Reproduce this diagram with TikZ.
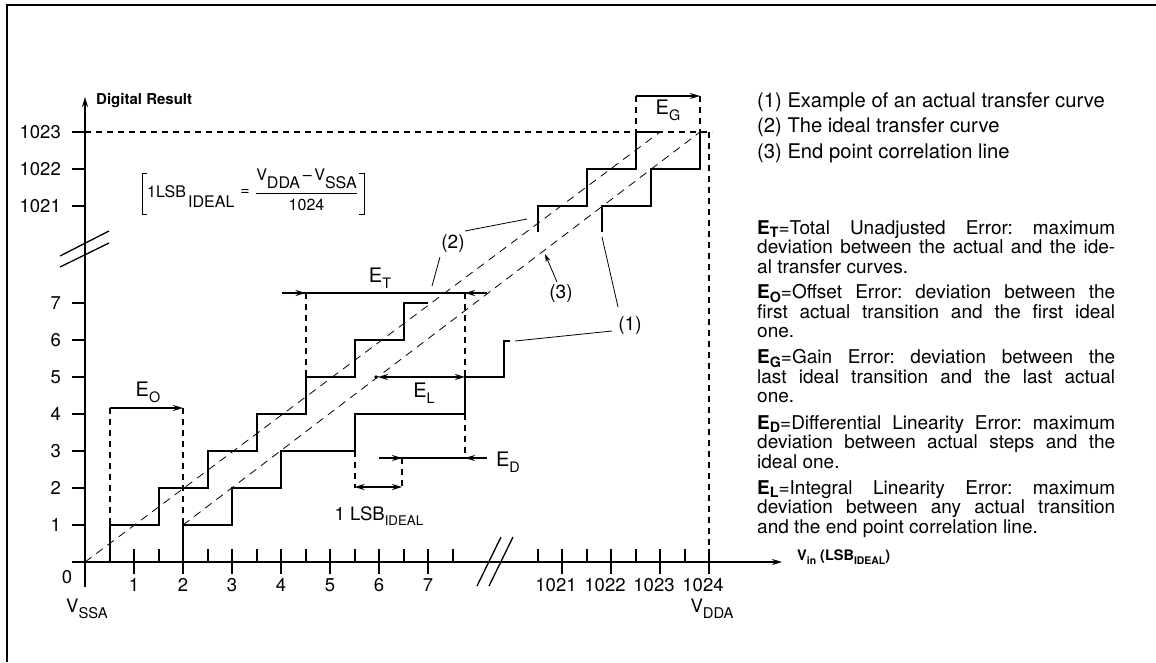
\documentclass[tikz,border=0pt]{standalone}
\usepackage{fontspec}
\setmainfont{TeX Gyre Heros}
\usepackage{graphicx}
\usetikzlibrary{arrows.meta}
\newcommand\lsub[2][0.72]{\raisebox{-0.3em}{\scalebox{#1}{#2}}}
\newcommand\bsub[1]{\raisebox{-0.2em}[\height][0pt]{\scalebox{0.75}{#1}}}
\newcommand\fs[1]{\fontsize{#1}{#1}\selectfont}
\frenchspacing
\begin{document}
\begin{tikzpicture}[x=1pt,y=-1pt,
  frame/.style={line width=2pt},
  axis/.style={line width=2pt},
  stair/.style={line width=2pt, line join=miter},
  thindash/.style={line width=0.8pt, dash pattern=on 8pt off 6pt},
  thickdash/.style={line width=2pt, dash pattern=on 5.5pt off 5.5pt},
  leader/.style={line width=0.8pt},
  eline/.style={line width=1.8pt},
  tipr/.style={line width=1.8pt, -{Stealth[length=10pt,width=6pt]}},
  brk/.style={line width=1.3pt},
  lab/.style={inner sep=0pt},
  tick/.style={inner sep=0pt, font=\fs{18.5}},
  elab/.style={inner sep=0pt, font=\fs{20}},
  txt/.style={anchor=base west, inner sep=0pt, font=\fs{19}},
  leg/.style={anchor=base west, inner sep=0pt, font=\fs{20.2}}
]
\useasboundingbox (0,0) rectangle (1156,662);
% frame
\draw[frame] (7,662) -- (7,5) -- (1156,5);

% axes
\draw[axis, -{Stealth[length=10pt,width=6pt]}] (85,587) -- (85,97);
\draw[axis, -{Stealth[length=10pt,width=6pt]}] (72,562) -- (782,562);
\node[lab, anchor=base west, font=\bfseries\fs{15}] (ylab) at (96,104) {Digital Result};
\node[lab, anchor=base west, font=\bfseries\fs{14.5}] (xlab) at (797,560) {V\lsub{in} (LSB\lsub{IDEAL})};

% y ticks
\foreach \v/\t in {525/1,488/2,451/3,414/4,377/5,340/6,303/7,206/1021,169/1022,132/1023}{
  \draw[axis] (72,\v) -- (85,\v);
  \node[tick, anchor=east] at (61,\v) {\t};
}
\node[tick] (zero) at (67,577) {0};
% x ticks
\foreach \n in {1,...,7}{
  \draw[axis] ({85+49*\n},549) -- ({85+49*\n},574);
  \node[tick, anchor=north] at ({85+49*\n},578) {\n};
  \draw[axis] ({85+49*(\n-0.5)},549) -- ({85+49*(\n-0.5)},562);
}
\draw[axis] (452.5,549) -- (452.5,562);
\foreach \k/\t in {0/1021,1/1022,2/1023,3/1024}{
  \draw[axis] ({562+49*\k},549) -- ({562+49*\k},574);
  \node[tick, anchor=north] at ({556+49*\k},578) {\t};
  \draw[axis] ({537.5+49*\k},549) -- ({537.5+49*\k},562);
}
\node[tick] (vssa) at (87,609) {V\lsub[0.8]{SSA}};
\node[tick] (vdda) at (712,609) {V\lsub[0.8]{DDA}};

% breaks
\draw[brk] (60,256) -- (109,231);
\draw[brk] (60,267) -- (109,243);
\draw[brk] (477,586) -- (501,537);
\draw[brk] (489,586) -- (513,537);

% 1023 / 1024 dashed limits
\draw[thickdash] (85,132) -- (712,132);
\draw[thickdash] (709,132) -- (709,562);

% ideal straight line (2) and end point correlation line (3)
\draw[thindash] (85,562) -- (660,132);
\draw[thindash] (183,525) -- (700,132);

% ideal staircase (2)
\draw[stair] (109.5,562) -- (109.5,525) -- (158.5,525) -- (158.5,488) -- (207.5,488) -- (207.5,451)
  -- (256.5,451) -- (256.5,414) -- (305.5,414) -- (305.5,377) -- (354.5,377) -- (354.5,340)
  -- (403.5,340) -- (403.5,303) -- (428,303);
\draw[stair] (537.5,232) -- (537.5,206) -- (586.5,206) -- (586.5,169) -- (635.5,169) -- (635.5,132) -- (660,132);
% actual staircase (1)
\draw[stair] (183,562) -- (183,525) -- (232,525) -- (232,488) -- (281,488) -- (281,451)
  -- (354.5,451) -- (354.5,414) -- (465,414) -- (465,377) -- (504,377) -- (504,341) -- (510,341);
\draw[stair] (602,232) -- (602,206) -- (651,206) -- (651,169) -- (700,169) -- (700,132);

% E_O
\draw[thickdash] (109.5,408) -- (109.5,525);
\draw[thickdash] (183,408) -- (183,525);
\draw[tipr] (109.5,408) -- (183,408);
\node[elab] (eo) at (148,392) {E\lsub{O}};

% E_T
\draw[thickdash] (305.5,293) -- (305.5,377);
\draw[thickdash] (465,293) -- (465,377);
\draw[eline] (282,293) -- (487,293);
\draw[tipr] (290,293) -- (305.5,293);
\draw[tipr] (480,293) -- (465,293);
\node[elab] (et) at (380,278) {E\lsub{T}};

% E_L
\draw[tipr] (420,377) -- (378,377);
\draw[tipr] (420,377) -- (465,377);
\fill (376,377) circle (1.8pt);
\node[elab] (el) at (424,393) {E\lsub{L}};

% E_D
\draw[thickdash] (465,414) -- (465,458);
\draw[thickdash] (402,458) -- (402,488);
\draw[thickdash] (354.5,451) -- (354.5,488);
\draw[eline] (379,458) -- (487,458);
\draw[tipr] (385,458) -- (402,458);
\draw[tipr] (480,458) -- (465,458);
\node[elab] (ed) at (508,462) {E\lsub{D}};
\draw[tipr] (378,487) -- (354.5,487);
\draw[tipr] (378,487) -- (402,487);
\node[tick] (lsb) at (379,516) {1 LSB\lsub{IDEAL}};

% E_G
\draw[thickdash] (635.5,96) -- (635.5,132);
\draw[thickdash] (700,96) -- (700,132);
\draw[tipr] (635.5,96) -- (700,96);
\node[elab] (eg) at (668,110) {E\lsub{G}};

% curve labels
\node[elab, font=\fs{19}] (l2) at (453,244) {(2)};
\node[elab, font=\fs{19}] (l3) at (561,294) {(3)};
\node[elab, font=\fs{19}] (l1) at (630,326) {(1)};
\coordinate (p2a) at (527,219);
\coordinate (p2b) at (432,286);
\coordinate (p3) at (545,254);
\coordinate (p1a) at (602,237);
\coordinate (p1b) at (515,341);
\draw[leader] (465,231) -- (p2a);
\draw[leader] (440,257) -- (p2b);
\draw[leader, -{Stealth[length=8pt,width=5pt]}] (557,282) -- (p3);
\draw[leader] (618,307) -- (p1a);
\draw[leader] (612,331) -- (p1b);

% formula
\draw[line width=1pt] (147,173) -- (142,173) -- (142,214) -- (147,214);
\draw[line width=1pt] (359,173) -- (364,173) -- (364,214) -- (359,214);
\node[lab, anchor=base west, font=\fs{16}] (f1) at (147,197) {1LSB};
\node[lab, anchor=base west, font=\fs{16}] (f2) at (188,207) {IDEAL};
\node[lab, font=\fs{16}] (feq) at (245,192) {=};
\draw[line width=1pt] (256,193) -- (357,193);
\node[lab, anchor=base, font=\fs{16}] (fnum) at (306.5,180) {V\raisebox{-0.55em}{DDA}\,–\,V\raisebox{-0.55em}{SSA}};
\node[lab, anchor=base, font=\fs{16}] (fden) at (306.5,210) {1024};

% legend
\node[leg] (g1) at (757,107) {(1) Example of an actual transfer curve};
\node[leg] (g2) at (757,132.5) {(2) The ideal transfer curve};
\node[leg] (g3) at (757,158) {(3) End point correlation line};

% definitions
\node[txt] (d1) at (757,234) {\makebox[358pt][s]{\textbf{E\bsub{T}}=Total Unadjusted Error: maximum}};
\node[txt] (d2) at (757,253.5) {\makebox[358pt][s]{deviation between the actual and the ide-}};
\node[txt] (d3) at (757,273) {al transfer curves.};
\node[txt] (d4) at (757,298.5) {\makebox[358pt][s]{\textbf{E\bsub{O}}=Offset Error: deviation between the}};
\node[txt] (d5) at (757,318) {\makebox[358pt][s]{first actual transition and the first ideal}};
\node[txt] (d6) at (757,337.5) {one.};
\node[txt] (d7) at (757,363.5) {\makebox[358pt][s]{\textbf{E\bsub{G}}=Gain Error: deviation between the}};
\node[txt] (d8) at (757,383) {\makebox[358pt][s]{last ideal transition and the last actual}};
\node[txt] (d9) at (757,402.5) {one.};
\node[txt] (d10) at (757,429) {\makebox[358pt][s]{\textbf{E\bsub{D}}=Differential Linearity Error: maximum}};
\node[txt] (d11) at (757,448.5) {\makebox[358pt][s]{deviation between actual steps and the}};
\node[txt] (d12) at (757,468) {ideal one.};
\node[txt] (d13) at (757,494) {\makebox[358pt][s]{\textbf{E\bsub{L}}=Integral Linearity Error: maximum}};
\node[txt] (d14) at (757,513.5) {\makebox[358pt][s]{deviation between any actual transition}};
\node[txt] (d15) at (757,533) {and the end point correlation line.};
\end{tikzpicture}
\end{document}
